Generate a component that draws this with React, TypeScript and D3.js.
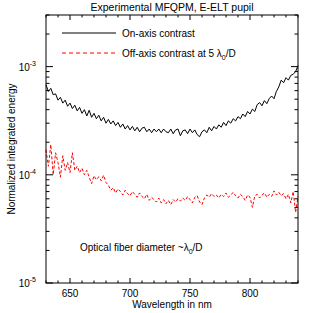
import * as d3 from 'd3';

// wavelength grid, nm (2 nm steps)
const wavelengths = d3.range(630, 841, 2);

// on-axis contrast, in units of 1e-4
const onAxis = [
  6.8, 5.9, 6.3, 5.5, 5.6, 4.9, 5.2, 4.6, 4.9, 4.3,
  4.6, 4.1, 4.4, 3.9, 4.2, 3.7, 4.0, 3.5, 3.95, 3.4,
  3.7, 3.3, 3.55, 3.15, 3.4, 3.0, 3.25, 2.95, 3.15, 2.85,
  3.05, 2.75, 2.95, 2.65, 2.85, 2.6, 2.8, 2.55, 2.75, 2.5,
  2.7, 2.75, 2.5, 2.65, 2.45, 2.65, 2.5, 2.65, 2.45, 2.65,
  2.5, 2.45, 2.65, 2.4, 2.6, 2.65, 2.3, 2.55, 2.6, 2.4,
  2.65, 2.45, 2.6, 2.35, 2.25, 2.5, 2.6, 2.45, 2.75, 2.55,
  2.8, 2.65, 2.9, 2.75, 3.05, 2.85, 3.15, 3.0, 3.3, 3.15,
  3.45, 3.3, 3.65, 3.45, 3.85, 3.65, 4.05, 3.85, 4.45, 4.65,
  4.35, 4.85, 4.55, 5.05, 5.35, 5.05, 5.9, 6.5, 7.5, 7.1,
  7.9, 7.5, 8.3, 8.5, 9.0, 10.2,
];

// off-axis contrast at 5 lambda0/D, in units of 1e-5
const offAxis = [
  17, 12, 19, 10, 16, 13, 9.5, 15, 11, 13,
  10.5, 16, 11, 12, 10.5, 11.5, 10, 11, 9.5, 8.3,
  9.8, 9, 9.6, 8.8, 9.9, 8.5, 8, 7.2, 7.6, 6.8,
  7.4, 7, 6.5, 7.2, 6.7, 6.4, 7, 6.6, 6.2, 6.8,
  6.3, 6, 6.6, 5.8, 6.2, 5.9, 5.6, 6.1, 5.5, 5.9,
  5.4, 5.8, 5.3, 5.9, 5.6, 6, 5.7, 6.1, 5.8, 6.3,
  5.9, 5.5, 6.2, 6.4, 5.6, 5.3, 6.1, 6.5, 6.2, 6.7,
  6.3, 6.5, 6.1, 6.6, 6.3, 6.8, 6.2, 6.5, 6.9, 6.4,
  6.1, 6.6, 6.3, 5.8, 6.5, 6.2, 5.0, 6.4, 6.6, 6.1,
  6.5, 6.8, 6.2, 6.6, 6.3, 7.1, 6.5, 6.9, 6.4, 6.7,
  6.0, 6.6, 5.5, 7.0, 4.5, 6.3,
];

const xMajor = [650, 700, 750, 800];
const xMinor = d3.range(630, 841, 10);
const yMajor = [1e-5, 1e-4, 1e-3];
const yMajorExp = ['-5', '-4', '-3'];

const W = 313;
const H = 313;
const margin = { top: 15, right: 15, bottom: 30, left: 46 };
const FONT = 'Liberation Sans, Arial, sans-serif';

const App = () => {
  const x = d3.scaleLinear().domain([630, 840]).range([margin.left, W - margin.right]);
  const y = d3.scaleLog().domain([1e-5, 3e-3]).range([H - margin.bottom, margin.top]);

  const x0 = x.range()[0];
  const x1 = x.range()[1];
  const yb = y.range()[0];
  const yt = y.range()[1];

  const onLine = d3.line<number>()
    .x((d, i) => x(wavelengths[i]))
    .y(d => y(d * 1e-4));
  const offLine = d3.line<number>()
    .x((d, i) => x(wavelengths[i]))
    .y(d => y(d * 1e-5));

  const yTicks = y.ticks().filter(t => t >= 1e-5 && t <= 3e-3);

  return (
    <svg width={W} height={H} style={{ position: 'absolute', left: 0, top: 0, background: '#fff' }}
      fontFamily={FONT} fontSize={10}>
      <rect x={0} y={0} width={W} height={H} fill="#fff" />

      {/* data */}
      <path d={offLine(offAxis) || ''} fill="none" stroke="#ff0000" strokeWidth={1} strokeDasharray="3,2" />
      <path d={onLine(onAxis) || ''} fill="none" stroke="#000" strokeWidth={1} />

      {/* frame */}
      <rect x={x0} y={yt} width={x1 - x0} height={yb - yt} fill="none" stroke="#000" strokeWidth={1} />

      {/* x ticks, bottom and top */}
      {xMinor.map(t => {
        const len = xMajor.includes(t) ? 5 : 2.5;
        return (
          <g key={'x' + t}>
            <line x1={x(t)} x2={x(t)} y1={yb} y2={yb - len} stroke="#000" />
            <line x1={x(t)} x2={x(t)} y1={yt} y2={yt + len} stroke="#000" />
          </g>
        );
      })}
      {xMajor.map(t => (
        <text key={'xl' + t} x={x(t)} y={297} textAnchor="middle">{t}</text>
      ))}

      {/* y ticks, left and right */}
      {yTicks.map(t => {
        const major = yMajor.some(m => Math.abs(m - t) / m < 1e-6);
        const len = major ? 7 : 3.5;
        return (
          <g key={'y' + t}>
            <line x1={x0} x2={x0 + len} y1={y(t)} y2={y(t)} stroke="#000" />
            <line x1={x1} x2={x1 - len} y1={y(t)} y2={y(t)} stroke="#000" />
          </g>
        );
      })}
      {yMajor.map((t, i) => (
        <text key={'yl' + t} x={36} y={y(t) + 4} textAnchor="end">
          10<tspan dy={-5} fontSize={7}>{yMajorExp[i]}</tspan>
        </text>
      ))}

      {/* titles */}
      <text x={(x0 + x1) / 2} y={11} textAnchor="middle" fontSize={10.5}>Experimental MFQPM, E-ELT pupil</text>
      <text x={(x0 + x1) / 2} y={308} textAnchor="middle">Wavelength in nm</text>
      <text transform={`translate(15,${(yt + yb) / 2}) rotate(-90)`} textAnchor="middle">Normalized integrated energy</text>

      {/* legend */}
      <line x1={62} x2={116} y1={33} y2={33} stroke="#000" />
      <text x={122} y={37}>On-axis contrast</text>
      <line x1={62} x2={116} y1={53} y2={53} stroke="#ff0000" strokeDasharray="4,3" />
      <text x={122} y={57}>
        Off-axis contrast at 5 λ<tspan dy={3} fontSize={7}>0</tspan><tspan dy={-3}>/D</tspan>
      </text>

      <text x={80} y={251}>
        Optical fiber diameter ~λ<tspan dy={3} fontSize={7}>0</tspan><tspan dy={-3}>/D</tspan>
      </text>
    </svg>
  );
};

export default App;
